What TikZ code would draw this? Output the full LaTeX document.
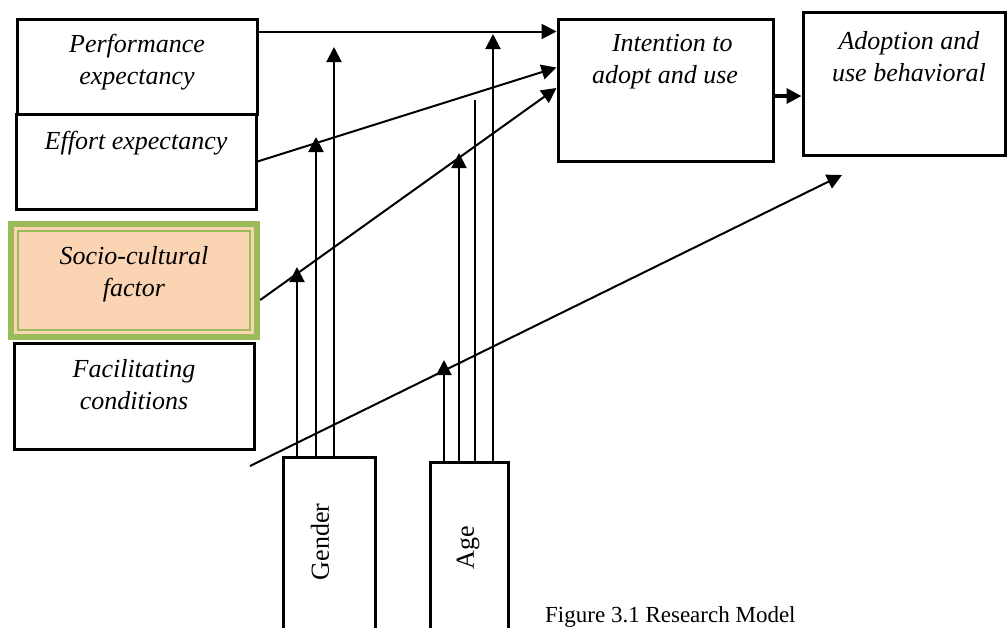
\documentclass[tikz,border=0pt]{standalone}
\usepackage{fontspec}
\setmainfont{Liberation Serif}
\usetikzlibrary{arrows.meta,calc}
\definecolor{sgreen}{HTML}{9BBB59}
\definecolor{sorange}{HTML}{FBD4B4}
\begin{document}
\begin{tikzpicture}[x=1pt,y=-1pt,
  box/.style={draw,line width=3pt,inner sep=0pt,minimum width=#1},
  lbl/.style={font=\fontsize{26}{32}\selectfont\itshape,align=center,inner sep=0pt},
  vlbl/.style={font=\fontsize{26}{32}\selectfont,rotate=90,inner sep=0pt},
  conn/.style={line width=2pt,-{Triangle[length=15pt,width=15pt]}},
  plain/.style={line width=2.4pt}]
\useasboundingbox (0,0) rectangle (1007,627);
\clip (0,0) rectangle (1007,627);
% boxes
\node[box=240pt,minimum height=95pt] (perf) at (137,66.5) {};
\node[box=240pt,minimum height=95pt] (effort) at (136,161.5) {};
\node[fill=sgreen,inner sep=0pt,minimum width=252pt,minimum height=119pt] (socio) at (134,280.5) {};
\node[fill=sorange,inner sep=0pt,minimum width=240pt,minimum height=107pt] (sociob) at (134,280.5) {};
\node[draw=sgreen,line width=2pt,inner sep=0pt,minimum width=232pt,minimum height=99pt] (socioc) at (134,280.5) {};
\node[box=240pt,minimum height=106pt] (facil) at (134,396) {};
\node[box=215pt,minimum height=142pt] (intent) at (665.5,90) {};
\node[box=202pt,minimum height=143pt] (adopt) at (904,83.5) {};
\node[box=92pt,minimum height=200pt] (gender) at (329,557) {};
\node[box=78pt,minimum height=200pt] (age) at (469,562) {};
% texts
\node[lbl] (tperf) at (137,62) {Performance\\expectancy};
\node[lbl] (teffort) at (136,143) {Effort expectancy};
\node[lbl] (tsocio) at (134,274) {Socio-cultural\\factor};
\node[lbl] (tfacil) at (134,385) {Facilitating\\conditions};
\node[lbl,align=left] (tintent) at (665,62) {\hspace{20pt}Intention to\\adopt and use};
\node[lbl] (tadopt) at (909,57) {Adoption and\\use behavioral};
\node[vlbl] (tgender) at (320,542) {Gender};
\node[vlbl] (tage) at (468,548) {Age};
\node[font=\fontsize{23}{28}\selectfont,anchor=base west,inner sep=0pt] (cap) at (545,622) {Figure 3.1 Research Model};
% free-end coordinates
\coordinate (fstart) at (250,466);
\coordinate (atip) at (842,175);
\coordinate (g1) at (297,267);
\coordinate (g2) at (316,137);
\coordinate (g3) at (334,47);
\coordinate (a1) at (444,360);
\coordinate (a2) at (459,153);
\coordinate (a3) at (475,100);
\coordinate (a4) at (493,34);
% connectors
\draw[conn] ([yshift=-14pt]perf.north east) -- ([yshift=-14pt]intent.north west);
\draw[conn] (effort.east) -- ([yshift=-50pt]intent.north west);
\draw[conn] ([yshift=-19.5pt]socio.east) -- ([yshift=2pt]intent.west);
\draw[conn] (fstart) -- (atip);
\draw[line width=3.5pt,-{Triangle[length=15pt,width=15pt]}] ([yshift=-6pt]intent.east) -- ([yshift=-6pt]intent.east -| adopt.west);
% moderator lines
\draw[conn] ([xshift=-32pt]gender.north) -- (g1);
\draw[conn] ([xshift=-13pt]gender.north) -- (g2);
\draw[conn] ([xshift=5pt]gender.north) -- (g3);
\draw[conn] ([xshift=-25pt]age.north) -- (a1);
\draw[conn] ([xshift=-10pt]age.north) -- (a2);
\draw[plain] ([xshift=6pt]age.north) -- (a3);
\draw[conn] ([xshift=24pt]age.north) -- (a4);
\end{tikzpicture}
\end{document}
